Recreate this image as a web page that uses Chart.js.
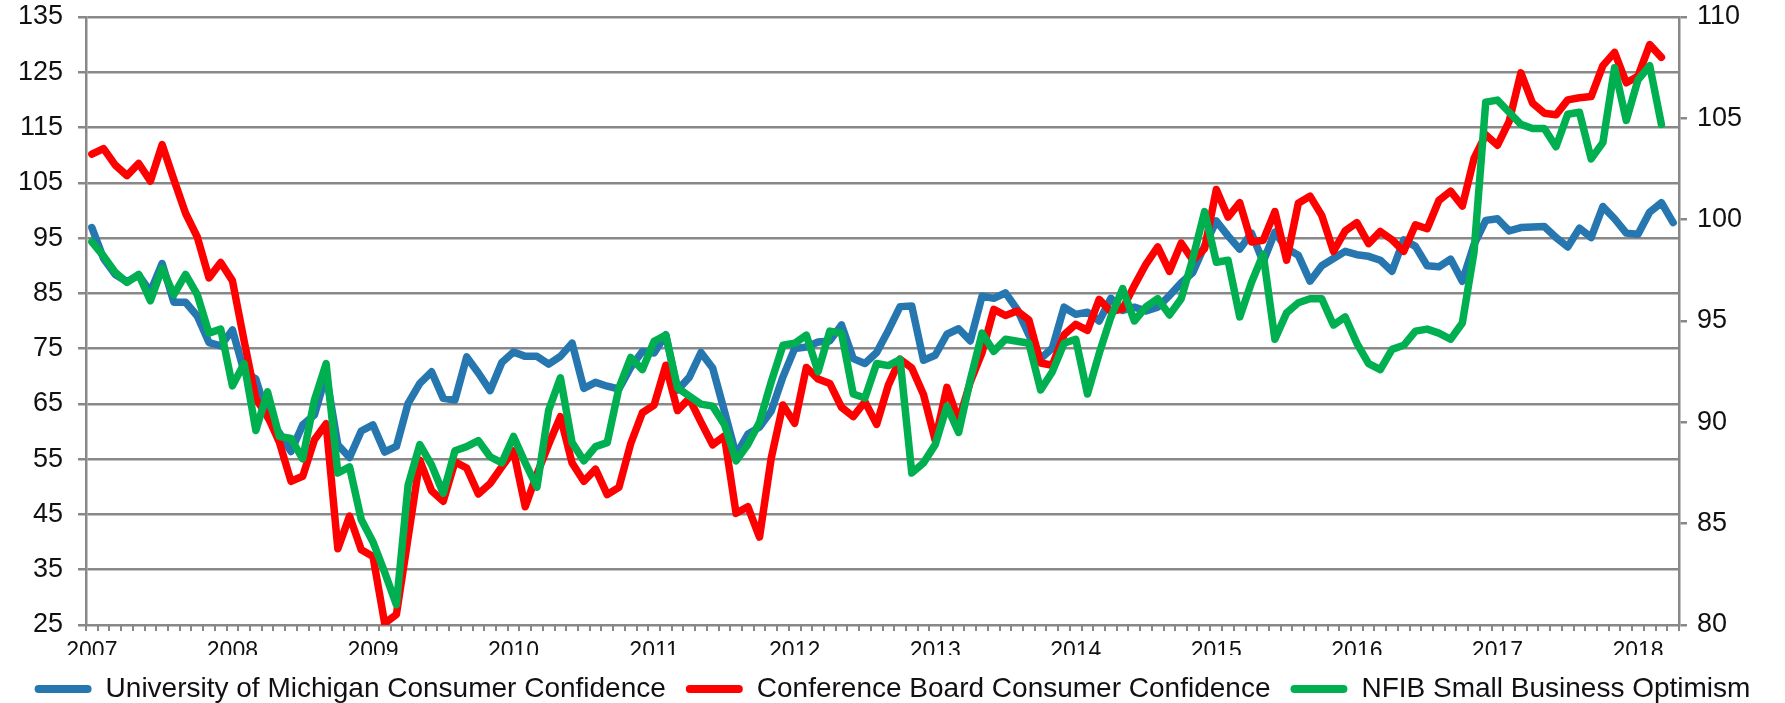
<!DOCTYPE html>
<html>
<head>
<meta charset="utf-8">
<script src="https://cdn.jsdelivr.net/npm/chart.js@4.4.1/dist/chart.umd.min.js"></script>
<style>
  html, body { margin: 0; padding: 0; background: #ffffff; }
  #wrap { width: 1785px; height: 703px; position: relative; }
</style>
</head>
<body>
<div id="wrap"><canvas id="c" width="1785" height="703"></canvas></div>
<script>
// ---- data ----
const years = ['2007','2008','2009','2010','2011','2012','2013','2014','2015','2016','2017','2018'];
const monthsIn2018 = 4; // Jan..Apr 2018
const seriesNames = [
  'University of Michigan Consumer Confidence',
  'Conference Board Consumer Confidence',
  'NFIB Small Business Optimism'
];

const umich = [
  96.9, 91.3, 88.4, 87.1, 88.3, 85.3, 90.4, 83.4, 83.4, 80.9, 76.1, 75.5,
  78.4, 70.8, 69.5, 62.6, 59.8, 56.4, 61.2, 63.0, 70.3, 57.6, 55.3, 60.1,
  61.2, 56.3, 57.3, 65.1, 68.7, 70.8, 66.0, 65.7, 73.5, 70.6, 67.4, 72.5,
  74.4, 73.6, 73.6, 72.2, 73.6, 76.0, 67.8, 68.9, 68.2, 67.7, 71.6, 74.5,
  74.2, 77.5, 67.5, 69.8, 74.3, 71.5, 63.7, 55.8, 59.5, 60.8, 63.7, 69.9,
  75.0, 75.3, 76.2, 76.4, 79.3, 73.2, 72.3, 74.3, 78.3, 82.6, 82.7, 72.9,
  73.8, 77.6, 78.6, 76.4, 84.5, 84.1, 85.1, 82.1, 77.5, 73.2, 75.1, 82.5,
  81.2, 81.6, 80.0, 84.1, 81.9, 82.5, 81.8, 82.5, 84.6, 86.9, 88.8, 93.6,
  98.1, 95.4, 93.0, 95.9, 90.7, 96.1, 93.1, 91.9, 87.2, 90.0, 91.3, 92.6,
  92.0, 91.7, 91.0, 89.0, 94.7, 93.5, 90.0, 89.8, 91.2, 87.2, 93.8, 98.2,
  98.5, 96.3, 96.9, 97.0, 97.1, 95.1, 93.4, 96.8, 95.1, 100.7, 98.5, 95.9,
  95.7, 99.7, 101.4, 97.8
];

const confBoard = [
  110.2, 111.2, 108.2, 106.3, 108.5, 105.3, 111.9, 105.6, 99.5, 95.2, 87.8, 90.6,
  87.3, 76.4, 65.9, 62.8, 58.1, 51.0, 51.9, 58.5, 61.4, 38.8, 44.7, 38.6,
  37.4, 25.3, 26.9, 40.8, 54.8, 49.3, 47.4, 54.5, 53.4, 48.7, 50.6, 53.6,
  56.5, 46.4, 52.3, 57.7, 62.7, 54.3, 51.0, 53.2, 48.6, 49.9, 57.8, 63.4,
  64.8, 72.0, 63.8, 66.0, 61.7, 57.6, 59.2, 45.2, 46.4, 40.9, 55.2, 64.8,
  61.5, 71.6, 69.5, 68.7, 64.4, 62.7, 65.4, 61.3, 68.4, 73.1, 71.5, 66.7,
  58.4, 68.0, 61.9, 69.0, 74.3, 82.1, 81.0, 81.8, 80.2, 72.4, 72.0, 77.5,
  79.4, 78.3, 83.9, 81.7, 82.2, 86.4, 90.3, 93.4, 89.0, 94.1, 91.0, 93.1,
  103.8, 98.8, 101.4, 94.3, 94.6, 99.8, 91.0, 101.3, 102.6, 99.1, 92.6, 96.3,
  97.8, 94.0, 96.2, 94.7, 92.6, 97.4, 96.7, 101.8, 103.5, 100.8, 109.4, 113.7,
  111.8, 116.1, 124.9, 119.4, 117.6, 117.3, 120.0, 120.4, 120.6, 126.2, 128.6, 123.1,
  124.3, 130.0, 127.7, null
];

const nfib = [
  98.9, 98.2, 97.4, 96.9, 97.3, 96.0, 97.6, 96.3, 97.3, 96.3, 94.4, 94.6,
  91.8, 92.9, 89.6, 91.5, 89.3, 89.2, 88.2, 91.1, 92.9, 87.5, 87.8, 85.2,
  84.1, 82.6, 81.0, 86.9, 88.9, 87.9, 86.5, 88.6, 88.8, 89.1, 88.3, 88.0,
  89.3, 88.0, 86.8, 90.6, 92.2, 89.0, 88.1, 88.8, 89.0, 91.7, 93.2, 92.6,
  94.0, 94.3, 91.7, 91.3, 90.9, 90.8, 89.9, 88.1, 88.9, 90.0, 92.0, 93.8,
  93.9, 94.3, 92.5, 94.5, 94.4, 91.4, 91.2, 92.9, 92.8, 93.1, 87.5, 88.0,
  88.9, 90.8, 89.5, 92.1, 94.4, 93.5, 94.1, 94.0, 93.9, 91.6, 92.5, 93.9,
  94.1, 91.4, 93.4, 95.2, 96.6, 95.0, 95.7, 96.1, 95.3, 96.1, 98.1, 100.4,
  97.9, 98.0, 95.2, 96.9, 98.3, 94.1, 95.4, 95.9, 96.1, 96.1, 94.8, 95.2,
  93.9, 92.9, 92.6, 93.6, 93.8, 94.5, 94.6, 94.4, 94.1, 94.9, 98.4, 105.8,
  105.9, 105.3, 104.7, 104.5, 104.5, 103.6, 105.2, 105.3, 103.0, 103.8, 107.5, 104.9,
  106.9, 107.6, 104.7, null
];

const leftTicks = { min: 25, max: 135, step: 10 };
const rightTicks = { min: 80, max: 110, step: 5 };

// month category labels built from the year list
const monthLabels = [];
years.forEach((y, yi) => {
  const n = (yi === years.length - 1) ? monthsIn2018 : 12;
  for (let m = 1; m <= n; m++) monthLabels.push(y + '-' + String(m).padStart(2, '0'));
});

// ---- styles ----
const FONT = '"Liberation Sans", Arial, sans-serif';
const GRID = '#888888';
const colors = ['#2677b0', '#ff0000', '#00b050'];

const chart = new Chart(document.getElementById('c'), {
  type: 'line',
  data: {
    labels: monthLabels,
    datasets: [
      { label: seriesNames[0], data: umich, borderColor: colors[0], backgroundColor: colors[0], yAxisID: 'y', order: 3 },
      { label: seriesNames[1], data: confBoard, borderColor: colors[1], backgroundColor: colors[1], yAxisID: 'y', order: 2 },
      { label: seriesNames[2], data: nfib, borderColor: colors[2], backgroundColor: colors[2], yAxisID: 'y2', order: 1 }
    ]
  },
  options: {
    responsive: false,
    devicePixelRatio: 1,
    animation: false,
    spanGaps: false,
    layout: { padding: { top: 0, bottom: 0, left: 0, right: 0 } },
    elements: {
      line: { borderWidth: 7.5, tension: 0, borderJoinStyle: 'round', borderCapStyle: 'round', fill: false },
      point: { radius: 0, hoverRadius: 0 }
    },
    plugins: {
      tooltip: { enabled: false },
      legend: {
        position: 'bottom',
        align: 'center',
        maxHeight: 48,
        labels: {
          font: { family: FONT, size: 28 },
          color: '#111',
          boxWidth: 57,
          boxHeight: 8,
          padding: 20,
          useBorderRadius: true,
          borderRadius: 4,
          generateLabels: (ch) => ch.data.datasets.map((ds, i) => ({
            text: ds.label,
            fillStyle: ds.borderColor,
            strokeStyle: ds.borderColor,
            lineWidth: 0,
            borderRadius: 4,
            hidden: false,
            datasetIndex: i,
            fontColor: '#111'
          }))
        }
      }
    },
    scales: {
      x: {
        type: 'category',
        offset: true,
        grid: {
          offset: true,
          drawOnChartArea: false,
          drawTicks: true,
          tickLength: 6,
          color: GRID,
          lineWidth: 2
        },
        border: { display: true, color: GRID, width: 2 },
        ticks: {
          autoSkip: false,
          maxRotation: 0,
          minRotation: 0,
          padding: 7,
          color: '#111',
          font: { family: FONT, size: 23 },
          callback: function (value, index) {
            const lab = monthLabels[index];
            return lab.endsWith('-01') ? lab.slice(0, 4) : '';
          }
        },
        afterFit: (s) => { s.height = 30; }
      },
      y: {
        position: 'left',
        min: leftTicks.min,
        max: leftTicks.max,
        grid: { color: GRID, lineWidth: 2.5, tickLength: 8, drawTicks: true },
        border: { display: true, color: GRID, width: 2.5 },
        ticks: {
          stepSize: leftTicks.step,
          padding: 15,
          color: '#111',
          font: { family: FONT, size: 27 }
        },
        afterFit: (s) => { s.width = 86; s.paddingTop = 17; s.paddingBottom = 0; }
      },
      y2: {
        position: 'right',
        min: rightTicks.min,
        max: rightTicks.max,
        grid: { drawOnChartArea: false, color: GRID, lineWidth: 2.5, tickLength: 8, drawTicks: true },
        border: { display: true, color: GRID, width: 2.5 },
        ticks: {
          stepSize: rightTicks.step,
          padding: 10,
          color: '#111',
          font: { family: FONT, size: 27 }
        },
        afterFit: (s) => { s.width = 106; s.paddingTop = 17; s.paddingBottom = 0; }
      }
    }
  }
});
</script>
</body>
</html>
